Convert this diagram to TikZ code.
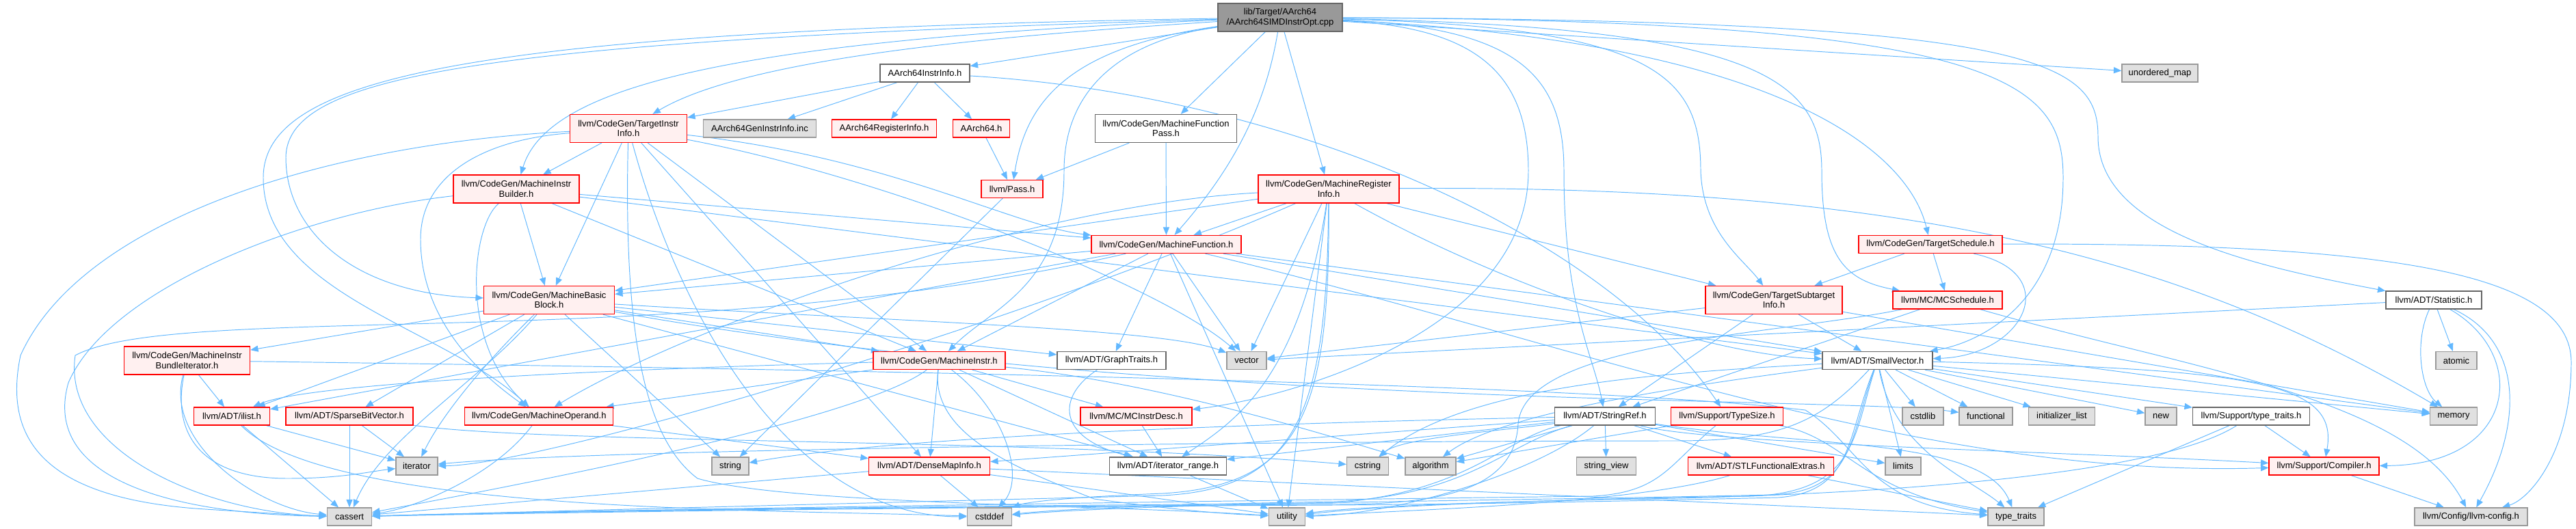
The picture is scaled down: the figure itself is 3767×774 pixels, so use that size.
\documentclass[tikz,border=0pt]{standalone}
\usepackage{fontspec}
\setmainfont{Liberation Sans}
\usetikzlibrary{arrows.meta}
\definecolor{edgeblue}{HTML}{63B8FF}
\definecolor{rborder}{HTML}{FF0000}
\definecolor{rfill}{HTML}{FFF0F0}
\definecolor{gborder}{HTML}{999999}
\definecolor{gfill}{HTML}{E0E0E0}
\definecolor{wborder}{HTML}{666666}
\definecolor{rootfill}{HTML}{999999}
\pgfdeclarelayer{bg}
\pgfsetlayers{bg,main}
\tikzset{
  nbase/.style={draw, line width=0.75pt, inner sep=0pt, align=center, text=black, font=\fontsize{7.4}{8.3}\selectfont},
  rn/.style={nbase, draw=rborder, fill=rfill},
  wn/.style={nbase, draw=wborder, fill=white},
  gn/.style={nbase, draw=gborder, fill=gfill},
  rootn/.style={nbase, draw=wborder, fill=rootfill},
  one/.style={minimum height=0.52cm},
  two/.style={minimum height=0.82cm},
  dep/.style={draw=edgeblue, line width=0.55pt, -{Triangle[length=6.5pt,width=5.2pt]}},
}
\begin{document}
\begin{tikzpicture}[x=0.02cm,y=-0.02cm]
\useasboundingbox (0,0) rectangle (3767,774);
% nodes
\node[rootn,two,minimum width=3.64cm] (root) at (1872,25.5) {lib/Target/AArch64\\/AArch64SIMDInstrOpt.cpp};
\node[wn,one,minimum width=2.62cm] (aii) at (1352.5,107) {AArch64InstrInfo.h};
\node[rn,two,minimum width=3.42cm] (tii) at (919,188) {llvm/CodeGen/TargetInstr\\Info.h};
\node[gn,one,minimum width=3.30cm] (gen) at (1111,188) {AArch64GenInstrInfo.inc};
\node[rn,one,minimum width=3.06cm] (ari) at (1293,188) {AArch64RegisterInfo.h};
\node[rn,one,minimum width=1.66cm] (a64) at (1435,188) {AArch64.h};
\node[wn,two,minimum width=4.14cm] (mfp) at (1705,188) {llvm/CodeGen/MachineFunction\\Pass.h};
\node[rn,one,minimum width=1.80cm] (pass) at (1480,276.5) {llvm/Pass.h};
\node[rn,two,minimum width=3.68cm] (mib) at (755,276.5) {llvm/CodeGen/MachineInstr\\Builder.h};
\node[rn,two,minimum width=4.12cm] (mri) at (1943,276.5) {llvm/CodeGen/MachineRegister\\Info.h};
\node[rn,one,minimum width=4.38cm] (mf) at (1705.5,357.5) {llvm/CodeGen/MachineFunction.h};
\node[rn,one,minimum width=4.20cm] (tsch) at (2823,357.5) {llvm/CodeGen/TargetSchedule.h};
\node[gn,one,minimum width=2.22cm] (umap) at (3158.5,107) {unordered\_map};
\node[rn,two,minimum width=3.68cm] (mibi) at (273.5,527.5) {llvm/CodeGen/MachineInstr\\BundleIterator.h};
\node[rn,one,minimum width=2.22cm] (ilist) at (339,609) {llvm/ADT/ilist.h};
\node[rn,one,minimum width=3.72cm] (sbv) at (511,609) {llvm/ADT/SparseBitVector.h};
\node[gn,one,minimum width=1.22cm] (iter) at (609.4,682) {iterator};
\node[gn,one,minimum width=1.30cm] (cassert) at (511,756) {cassert};
\node[rn,two,minimum width=3.82cm] (mbb) at (803,439) {llvm/CodeGen/MachineBasic\\Block.h};
\node[rn,one,minimum width=4.34cm] (mop) at (788.3,609) {llvm/CodeGen/MachineOperand.h};
\node[gn,one,minimum width=1.08cm] (string) at (1068,682) {string};
\node[rn,one,minimum width=3.86cm] (mi) at (1373.4,527.5) {llvm/CodeGen/MachineInstr.h};
\node[wn,one,minimum width=3.18cm] (gt) at (1625.4,527.5) {llvm/ADT/GraphTraits.h};
\node[gn,one,minimum width=1.16cm] (vector) at (1823,527.5) {vector};
\node[rn,one,minimum width=3.26cm] (mcid) at (1661.5,609) {llvm/MC/MCInstrDesc.h};
\node[rn,one,minimum width=3.54cm] (dmi) at (1359,682) {llvm/ADT/DenseMapInfo.h};
\node[wn,one,minimum width=3.41cm] (itr) at (1708,682) {llvm/ADT/iterator\_range.h};
\node[gn,one,minimum width=1.30cm] (cstddef) at (1447,756) {cstddef};
\node[gn,one,minimum width=1.06cm] (utility) at (1882,756) {utility};
\node[wn,one,minimum width=2.94cm] (sref) at (2347,609) {llvm/ADT/StringRef.h};
\node[gn,one,minimum width=1.22cm] (cstring) at (2000,682) {cstring};
\node[gn,one,minimum width=1.48cm] (algo) at (2092,682) {algorithm};
\node[gn,one,minimum width=1.74cm] (sview) at (2349,682) {string\_view};
\node[rn,one,minimum width=3.28cm] (tsize) at (2525.5,609) {llvm/Support/TypeSize.h};
\node[rn,one,minimum width=4.26cm] (stlfe) at (2574.7,682) {llvm/ADT/STLFunctionalExtras.h};
\node[rn,two,minimum width=4.00cm] (tsi) at (2594,439) {llvm/CodeGen/TargetSubtarget\\Info.h};
\node[rn,one,minimum width=3.20cm] (mcs) at (2848,439) {llvm/MC/MCSchedule.h};
\node[wn,one,minimum width=3.22cm] (sv) at (2745.5,527.5) {llvm/ADT/SmallVector.h};
\node[gn,one,minimum width=1.20cm] (cstdlib) at (2812,609) {cstdlib};
\node[gn,one,minimum width=1.56cm] (func) at (2904,609) {functional};
\node[gn,one,minimum width=1.94cm] (initl) at (3015,609) {initializer\_list};
\node[gn,one,minimum width=1.04cm] (limits) at (2783,682) {limits};
\node[gn,one,minimum width=1.64cm] (tt) at (2948,756) {type\_traits};
\node[wn,one,minimum width=2.80cm] (stat) at (3559,439) {llvm/ADT/Statistic.h};
\node[gn,one,minimum width=1.20cm] (atomic) at (3592,527.5) {atomic};
\node[gn,one,minimum width=0.92cm] (new) at (3160,609) {new};
\node[wn,one,minimum width=3.42cm] (stt) at (3292,609) {llvm/Support/type\_traits.h};
\node[gn,one,minimum width=1.37cm] (memory) at (3588,609) {memory};
\node[rn,one,minimum width=3.22cm] (comp) at (3398.6,682) {llvm/Support/Compiler.h};
\node[gn,one,minimum width=3.30cm] (cfg) at (3613.5,756) {llvm/Config/llvm-config.h};
% edges
\begin{pgfonlayer}{bg}
% root
\draw[dep] (root) -- (aii);
\draw[dep] (root) .. controls (1500,50) and (1100,80) .. (tii);
\draw[dep] (root) .. controls (1050,60) and (800,130) .. (mib);
\draw[dep] (root) .. controls (1560,70) and (1500,150) .. (pass);
\draw[dep] (root) -- (mfp);
\draw[dep] (root) .. controls (1850,160) and (1800,250) .. (mf);
\draw[dep] (root) -- (mri);
\draw[dep] (root) .. controls (700,60) and (420,110) .. (418,230) .. controls (418,340) and (520,430) .. (mbb);
\draw[dep] (root) .. controls (700,45) and (385,110) .. (385,260) .. controls (385,430) and (650,480) .. (mop);
\draw[dep] (root) .. controls (1640,60) and (1556,130) .. (1556,250) .. controls (1556,420) and (1450,450) .. (mi);
\draw[dep] (root) .. controls (2150,40) and (2235,100) .. (2235,250) .. controls (2235,480) and (1900,580) .. (mcid);
\draw[dep] (root) .. controls (2220,40) and (2287,110) .. (2287,250) .. controls (2287,450) and (2330,520) .. (sref);
\draw[dep] (root) .. controls (2420,40) and (2487,110) .. (2487,250) .. controls (2490,340) and (2550,380) .. (tsi);
\draw[dep] (root) .. controls (2580,40) and (2664,120) .. (2664,250) .. controls (2664,380) and (2700,410) .. (mcs);
\draw[dep] (root) .. controls (2600,60) and (2790,220) .. (tsch);
\draw[dep] (root) .. controls (2930,30) and (3017,120) .. (3017,260) .. controls (3017,440) and (2900,500) .. (sv);
\draw[dep] (root) .. controls (2980,30) and (3068,90) .. (3068,200) .. controls (3068,340) and (3300,390) .. (stat);
\draw[dep] (root) -- (umap);
% AArch64InstrInfo
\draw[dep] (aii) -- (tii);
\draw[dep] (aii) -- (gen);
\draw[dep] (aii) -- (ari);
\draw[dep] (aii) -- (a64);
\draw[dep] (aii) .. controls (1900,140) and (2350,350) .. (tsize);
\draw[dep] (a64) -- (pass);
\draw[dep] (mfp) -- (mf);
\draw[dep] (mfp) -- (pass);
% TargetInstrInfo
\draw[dep] (tii) -- (mib);
\draw[dep] (tii) -- (mbb);
\draw[dep] (tii) -- (mi);
\draw[dep] (tii) -- (dmi);
\draw[dep] (tii) .. controls (1300,230) and (1480,330) .. (mf);
\draw[dep] (tii) .. controls (1300,260) and (1700,420) .. (vector);
\draw[dep] (tii) .. controls (700,205) and (615,260) .. (615,350) .. controls (615,480) and (720,560) .. (mop);
\draw[dep] (tii) .. controls (480,210) and (120,320) .. (30,520) .. controls (5,640) and (60,730) .. (300,745) .. controls (380,750) and (440,754) .. (cassert);
\draw[dep] (tii) .. controls (912,480) and (940,640) .. (1020,700) .. controls (1150,738) and (1600,738) .. (utility);
\draw[dep] (tii) .. controls (990,450) and (1150,756) .. (cstddef);
% MachineInstrBuilder
\draw[dep] (mib) -- (mbb);
\draw[dep] (mib) .. controls (690,330) and (670,500) .. (mop);
\draw[dep] (mib) -- (mi);
\draw[dep] (mib) -- (mf);
\draw[dep] (mib) -- (sv);
\draw[dep] (mib) .. controls (450,310) and (160,420) .. (100,560) .. controls (60,700) and (250,752) .. (cassert);
% MachineRegisterInfo
\draw[dep] (mri) .. controls (2200,420) and (2500,520) .. (sv);
\draw[dep] (mri) .. controls (1900,560) and (1800,620) .. (itr);
\draw[dep] (mri) -- (mbb);
\draw[dep] (mri) -- (mf);
\draw[dep] (mri) .. controls (1500,300) and (1000,480) .. (mop);
\draw[dep] (mri) -- (tsi);
\draw[dep] (mri) .. controls (2800,270) and (3200,380) .. (memory);
\draw[dep] (mri) -- (utility);
\draw[dep] (mri) -- (vector);
\draw[dep] (mri) .. controls (1500,470) and (800,680) .. (iter);
\draw[dep] (mri) .. controls (1945,600) and (1905,710) .. (1700,722) .. controls (1550,728) and (1500,735) .. (cstddef);
\draw[dep] (mri) .. controls (1940,600) and (1900,715) .. (1700,725) .. controls (1300,735) and (800,748) .. (cassert);
% MachineFunction
\draw[dep] (mf) -- (gt);
\draw[dep] (mf) -- (sv);
\draw[dep] (mf) -- (ilist);
\draw[dep] (mf) -- (mbb);
\draw[dep] (mf) -- (mi);
\draw[dep] (mf) .. controls (2300,500) and (2800,700) .. (comp);
\draw[dep] (mf) -- (memory);
\draw[dep] (mf) -- (utility);
\draw[dep] (mf) -- (vector);
\draw[dep] (mf) .. controls (1000,520) and (260,440) .. (110,520) .. controls (90,660) and (300,750) .. (cassert);
% TargetSchedule
\draw[dep] (tsch) .. controls (3020,400) and (2960,520) .. (sv);
\draw[dep] (tsch) -- (tsi);
\draw[dep] (tsch) -- (mcs);
\draw[dep] (tsch) .. controls (3500,355) and (3760,400) .. (3760,530) .. controls (3760,660) and (3700,730) .. (cfg);
% MachineBasicBlock
\draw[dep] (mbb) -- (gt);
\draw[dep] (mbb) -- (sbv);
\draw[dep] (mbb) -- (ilist);
\draw[dep] (mbb) -- (itr);
\draw[dep] (mbb) -- (mi);
\draw[dep] (mbb) -- (mibi);
\draw[dep] (mbb) .. controls (700,560) and (560,640) .. (cassert);
\draw[dep] (mbb) .. controls (1700,600) and (2700,580) .. (func);
\draw[dep] (mbb) .. controls (720,520) and (650,600) .. (iter);
\draw[dep] (mbb) -- (string);
\draw[dep] (mbb) .. controls (1300,470) and (1700,480) .. (vector);
% MachineInstrBundleIterator
\draw[dep] (mibi) -- (ilist);
\draw[dep] (mibi) .. controls (240,650) and (380,745) .. (cassert);
\draw[dep] (mibi) .. controls (250,640) and (300,700) .. (420,700) .. controls (500,700) and (540,690) .. (iter);
\draw[dep] (mibi) .. controls (1200,540) and (2300,560) .. (2640,600) .. controls (2720,650) and (2730,740) .. (tt);
% ilist, SparseBitVector, MachineOperand
\draw[dep] (ilist) -- (cassert);
\draw[dep] (ilist) .. controls (480,750) and (1100,745) .. (cstddef);
\draw[dep] (ilist) -- (iter);
\draw[dep] (sbv) -- (cassert);
\draw[dep] (sbv) .. controls (800,650) and (1500,640) .. (cstring);
\draw[dep] (sbv) -- (iter);
\draw[dep] (mop) -- (dmi);
\draw[dep] (mop) .. controls (720,700) and (600,745) .. (cassert);
% MachineInstr
\draw[dep] (mi) -- (dmi);
\draw[dep] (mi) .. controls (900,540) and (450,560) .. (ilist);
\draw[dep] (mi) -- (itr);
\draw[dep] (mi) -- (mop);
\draw[dep] (mi) -- (mcid);
\draw[dep] (mi) .. controls (1700,560) and (1950,640) .. (algo);
\draw[dep] (mi) .. controls (1250,620) and (700,720) .. (cassert);
\draw[dep] (mi) .. controls (1470,600) and (1500,700) .. (cstddef);
\draw[dep] (mi) .. controls (1360,640) and (1500,690) .. (1600,730) .. controls (1750,750) and (1800,752) .. (utility);
% GraphTraits, MCInstrDesc, DenseMapInfo, iterator_range
\draw[dep] (gt) .. controls (1545,580) and (1545,640) .. (itr);
\draw[dep] (mcid) -- (itr);
\draw[dep] (dmi) -- (cassert);
\draw[dep] (dmi) -- (cstddef);
\draw[dep] (dmi) -- (tt);
\draw[dep] (dmi) -- (utility);
\draw[dep] (itr) -- (utility);
% StringRef
\draw[dep] (sref) -- (dmi);
\draw[dep] (sref) -- (stlfe);
\draw[dep] (sref) -- (itr);
\draw[dep] (sref) .. controls (2500,650) and (3000,660) .. (comp);
\draw[dep] (sref) -- (algo);
\draw[dep] (sref) .. controls (2200,640) and (2150,720) .. (1950,736) .. controls (1500,740) and (900,745) .. (cassert);
\draw[dep] (sref) .. controls (2200,650) and (2150,725) .. (1950,734) .. controls (1700,738) and (1550,745) .. (cstddef);
\draw[dep] (sref) .. controls (2200,630) and (2050,640) .. (cstring);
\draw[dep] (sref) -- (limits);
\draw[dep] (sref) .. controls (1800,620) and (1300,640) .. (string);
\draw[dep] (sref) -- (sview);
\draw[dep] (sref) .. controls (2650,655) and (2900,640) .. (tt);
\draw[dep] (sref) .. controls (2250,690) and (2050,752) .. (utility);
% TypeSize, STLFunctionalExtras
\draw[dep] (tsize) -- (algo);
\draw[dep] (tsize) .. controls (2700,640) and (2720,720) .. (tt);
\draw[dep] (tsize) .. controls (2440,680) and (2430,720) .. (2330,726) .. controls (2000,730) and (900,745) .. (cassert);
\draw[dep] (stlfe) -- (tt);
\draw[dep] (stlfe) .. controls (2400,735) and (2100,745) .. (utility);
% TargetSubtargetInfo, MCSchedule
\draw[dep] (tsi) -- (sv);
\draw[dep] (tsi) -- (sref);
\draw[dep] (tsi) -- (memory);
\draw[dep] (tsi) -- (vector);
\draw[dep] (mcs) -- (sref);
\draw[dep] (mcs) .. controls (3200,540) and (3520,580) .. (cfg);
\draw[dep] (mcs) .. controls (2600,490) and (2230,500) .. (2220,620) .. controls (2215,720) and (2100,738) .. (1950,738) .. controls (1500,741) and (900,746) .. (cassert);
% SmallVector
\draw[dep] (sv) .. controls (3300,540) and (3420,560) .. (comp);
\draw[dep] (sv) -- (stt);
\draw[dep] (sv) .. controls (2500,560) and (2200,600) .. (algo);
\draw[dep] (sv) .. controls (2700,640) and (2710,720) .. (2600,728) .. controls (2300,735) and (2100,738) .. (1950,739) .. controls (1500,741) and (900,748) .. (cassert);
\draw[dep] (sv) .. controls (2705,640) and (2712,720) .. (2590,724) .. controls (2200,733) and (1700,735) .. (cstddef);
\draw[dep] (sv) -- (cstdlib);
\draw[dep] (sv) .. controls (2450,545) and (2150,560) .. (cstring);
\draw[dep] (sv) -- (func);
\draw[dep] (sv) -- (initl);
\draw[dep] (sv) .. controls (2660,620) and (2600,645) .. (2450,645) .. controls (2000,645) and (900,655) .. (iter);
\draw[dep] (sv) -- (limits);
\draw[dep] (sv) -- (memory);
\draw[dep] (sv) -- (new);
\draw[dep] (sv) .. controls (2770,660) and (2880,700) .. (tt);
\draw[dep] (sv) .. controls (2710,640) and (2714,720) .. (2560,726) .. controls (2200,732) and (2000,742) .. (utility);
% Statistic
\draw[dep] (stat) .. controls (3690,500) and (3690,620) .. (cfg);
\draw[dep] (stat) .. controls (3700,520) and (3680,680) .. (comp);
\draw[dep] (stat) -- (atomic);
\draw[dep] (stat) .. controls (3530,500) and (3540,570) .. (memory);
\draw[dep] (stat) -- (vector);
% type_traits, Compiler, Pass
\draw[dep] (stt) -- (comp);
\draw[dep] (stt) -- (tt);
\draw[dep] (stt) .. controls (3150,700) and (2700,725) .. (2400,730) .. controls (2100,735) and (1950,745) .. (utility);
\draw[dep] (comp) -- (cfg);
\draw[dep] (pass) -- (string);
\end{pgfonlayer}
\end{tikzpicture}
\end{document}
